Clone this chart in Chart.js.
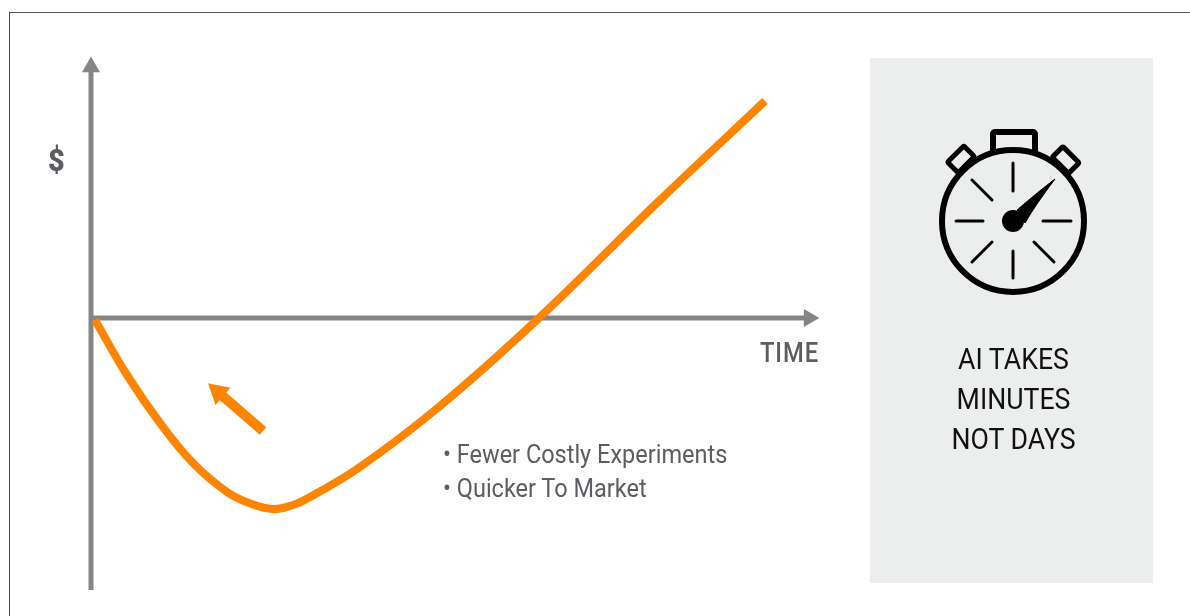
<!DOCTYPE html>
<html>
<head>
<meta charset="utf-8">
<script src="https://cdn.jsdelivr.net/npm/chart.js@4"></script>
<style>
  html, body { margin: 0; padding: 0; background: #fff; overflow: hidden; }
  #pagina { position: relative; width: 1190px; height: 616px; overflow: hidden; font-family: Roboto, sans-serif; }
  #marco { position: absolute; left: 9px; top: 12px; width: 1190px; height: 620px; border-top: 1px solid #555; border-left: 1px solid #444; }
  #panel { position: absolute; left: 870px; top: 58px; width: 283px; height: 525px; background: #eceeed; }
  #grafico { position: absolute; left: 0; top: 0; }
  .txt { position: absolute; white-space: nowrap; transform-origin: left center; }
  .gris { color: #5b5d60; }
  .lista { font-size: 25px; line-height: 28px; transform: scaleX(0.94); }
  .caja { position: absolute; left: 872px; width: 283px; text-align: center; font-size: 29px; line-height: 32px; color: #111; transform: scaleX(0.92); }
  #reloj { position: absolute; left: 920px; top: 120px; }
</style>
</head>
<body>
<div id="pagina">
  <div id="marco"></div>
  <div id="panel"></div>
  <canvas id="grafico" width="1190" height="616"></canvas>

  <div class="txt gris" style="left:48px;top:142px;font-size:32px;line-height:36px;font-weight:900;transform:scaleX(0.9);">$</div>
  <div class="txt gris" style="left:760px;top:337px;font-size:27px;line-height:32px;font-weight:500;letter-spacing:1px;transform:scaleX(0.88);">TIME</div>
  <div class="txt gris lista" style="left:443px;top:441px;">• Fewer Costly Experiments</div>
  <div class="txt gris lista" style="left:443px;top:475px;">• Quicker To Market</div>

  <div class="caja" style="top:343px;">AI TAKES</div>
  <div class="caja" style="top:383px;">MINUTES</div>
  <div class="caja" style="top:423px;">NOT DAYS</div>

  <svg id="reloj" width="190" height="190" viewBox="920 120 190 190">
    <rect x="993" y="132" width="42" height="24" rx="2" fill="none" stroke="#000" stroke-width="6"/>
    <rect x="950" y="152" width="23" height="15" rx="1.5" fill="none" stroke="#000" stroke-width="5" transform="rotate(-45 961 160)"/>
    <rect x="1054" y="152" width="23" height="15" rx="1.5" fill="none" stroke="#000" stroke-width="5" transform="rotate(45 1065 160)"/>
    <circle cx="1013" cy="221" r="71" fill="#eceeed" stroke="#000" stroke-width="6"/>
    <g stroke="#000" stroke-width="3" stroke-linecap="round">
      <line x1="1013" y1="163" x2="1013" y2="191"/>
      <line x1="1013" y1="251" x2="1013" y2="278"/>
      <line x1="956" y1="221" x2="983" y2="221"/>
      <line x1="1043" y1="221" x2="1071" y2="221"/>
      <line x1="972" y1="180" x2="992" y2="200"/>
      <line x1="1034" y1="242" x2="1054" y2="262"/>
      <line x1="972" y1="262" x2="992" y2="242"/>
    </g>
    <circle cx="1013" cy="221" r="11" fill="#000"/>
    <path d="M1055 179 Q1036 204 1025 223 L1017 210 Q1039 191 1055 179 Z" fill="#000" stroke="#000" stroke-width="1" stroke-linejoin="round"/>
  </svg>
</div>

<script>
// curva de ganancia acumulada
var tiempo = [4, 36, 69, 102, 136, 158, 182, 202, 219, 269, 349, 449, 569, 674];
var dinero = [-2, -57, -105, -145, -174, -185, -191, -187, -179, -149, -88, 1, 118, 217];

// flecha naranja
var flechaTiempo = [172, 127];
var flechaDinero = [-113, -74];

// ejes
var ejeXTiempo = [0, 718];
var ejeXDinero = [0, 0];
var ejeYTiempo = [0, 0];
var ejeYDinero = [-272, 251];

var naranja = '#ff8400';
var gris = '#858585';

function puntos(xs, ys){
  var salida = [];
  for(var i = 0; i < xs.length; i++){
    salida.push({x: xs[i], y: ys[i]});
  }
  return salida;
}

var contexto = document.getElementById('grafico').getContext('2d');
var myChart = new Chart(contexto, {
  type: 'line',
  data: {
    datasets: [
      {
        label: 'Ganancia',
        data: puntos(tiempo, dinero),
        borderColor: naranja,
        borderWidth: 8,
        tension: 0.4,
        borderCapStyle: 'butt',
        pointRadius: 0
      },
      {
        label: 'Flecha',
        data: puntos(flechaTiempo, flechaDinero),
        borderColor: naranja,
        backgroundColor: naranja,
        borderWidth: 10,
        pointStyle: 'triangle',
        pointRadius: [0, 13.2],
        pointBorderWidth: 0,
        pointRotation: [0, -49]
      },
      {
        label: 'Tiempo',
        data: puntos(ejeXTiempo, ejeXDinero),
        borderColor: gris,
        backgroundColor: gris,
        borderWidth: 5,
        pointStyle: 'triangle',
        pointRadius: [0, 10.4],
        pointBorderWidth: 0,
        pointRotation: [0, 90]
      },
      {
        label: 'Dinero',
        data: puntos(ejeYTiempo, ejeYDinero),
        borderColor: gris,
        backgroundColor: gris,
        borderWidth: 5,
        pointStyle: 'triangle',
        pointRadius: [0, 10.4],
        pointBorderWidth: 0,
        pointRotation: [0, 0]
      }
    ]
  },
  options: {
    responsive: false,
    animation: false,
    layout: {
      padding: { left: 91, right: 372, top: 58, bottom: 26 }
    },
    scales: {
      x: { type: 'linear', display: false, min: 0, max: 727 },
      y: { type: 'linear', display: false, min: -272, max: 260 }
    },
    plugins: {
      legend: { display: false },
      title: { display: false },
      tooltip: { enabled: false }
    },
    clip: false
  }
});
</script>
</body>
</html>
